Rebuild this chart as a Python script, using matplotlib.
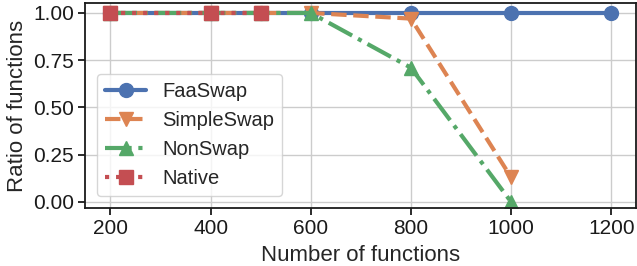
import matplotlib
matplotlib.use('Agg')
import matplotlib.pyplot as plt
import seaborn as sns

sns.set_theme(style='whitegrid')
sns.set_style('ticks', {'axes.grid': True})
plt.rcParams['font.family'] = ['Liberation Sans', 'DejaVu Sans']

x_all = [200, 400, 500, 600, 800, 1000, 1200]
faaswap = [1, 1, 1, 1, 1, 1, 1]
x_simple = [200, 400, 500, 600, 800, 1000]
simpleswap = [1, 1, 1, 1, 0.97, 0.13]
x_non = [200, 400, 500, 600, 800, 1000]
nonswap = [1, 1, 1, 1, 0.71, 0.0]
x_native = [200, 400, 500]
native = [1, 1, 1]

colors = sns.color_palette('deep')

fig, ax = plt.subplots(figsize=(6.37, 2.66), dpi=100)
ax.plot(x_all, faaswap, '-', marker='o', color=colors[0], lw=3, ms=10, label='FaaSwap')
ax.plot(x_simple, simpleswap, '--', marker='v', color=colors[1], lw=3, ms=10, label='SimpleSwap')
ax.plot(x_non, nonswap, '-.', marker='^', color=colors[2], lw=3, ms=10, label='NonSwap')
ax.plot(x_native, native, ':', marker='s', color=colors[3], lw=3, ms=10, label='Native')

ax.set_xticks([200, 400, 600, 800, 1000, 1200])
ax.set_yticks([0, 0.25, 0.5, 0.75, 1.0])
ax.set_yticklabels(['0.00', '0.25', '0.50', '0.75', '1.00'])
ax.set_ylim(-0.032, 1.053)
ax.tick_params(labelsize=15, length=5, width=1.3, colors='#1a1a1a', pad=3)
for s in ax.spines.values():
    s.set_color('#1a1a1a')
    s.set_linewidth(1.3)
ax.set_xlabel('Number of functions', fontsize=16, color='#262626', labelpad=5)
ax.set_ylabel('Ratio of functions', fontsize=16, color='#262626', labelpad=4)
ax.legend(loc='lower left', fontsize=14.5, handlelength=2.0, labelspacing=0.5,
          borderaxespad=0.6)

fig.subplots_adjust(left=0.134, right=0.999, top=0.989, bottom=0.218)
fig.savefig('out.png', dpi=100)
